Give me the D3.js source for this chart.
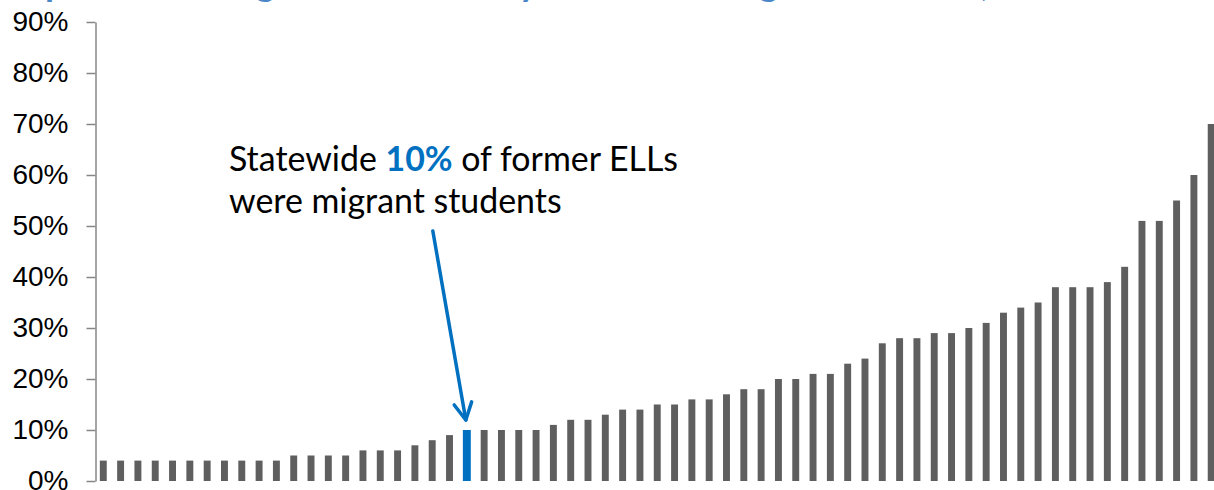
<!DOCTYPE html>
<html>
<head>
<meta charset="utf-8">
<script src="https://cdn.jsdelivr.net/npm/d3@7"></script>
<style>
  body { margin: 0; background: #fff; }
  svg { display: block; }
</style>
</head>
<body>
<div id="chart"></div>
<script>
// share of former ELLs who were migrant students, one bar per district, sorted
var shares = [
  4, 4, 4, 4, 4, 4, 4, 4, 4, 4, 4,
  5, 5, 5, 5, 6, 6, 6, 7, 8, 9,
  10, // statewide
  10, 10, 10, 10, 11, 12, 12, 13, 14, 14, 15, 15, 16, 16, 17, 18, 18,
  20, 20, 21, 21, 23, 24, 27, 28, 28, 29, 29, 30, 31, 33, 34, 35,
  38, 38, 38, 39, 42, 51, 51, 55, 60, 70
];
var statewideIndex = 21;
var yTicks = [0, 10, 20, 30, 40, 50, 60, 70, 80, 90];
var titleText = 'Proportion of migrant students by district among former ELLs, 2012-13';
var noteLine1 = ['Statewide ', '10%', ' of former ELLs'];
var noteLine2 = 'were migrant students';

var width = 1214, height = 490;
var margin = {top: 22, right: -5, bottom: 9, left: 95.5};

var svg = d3.select('#chart').append('svg')
  .attr('width', width).attr('height', height);

var x = d3.scaleBand()
  .domain(d3.range(shares.length))
  .range([margin.left, width - margin.right])
  .paddingInner(0.6)
  .paddingOuter(0.25);

var y = d3.scaleLinear()
  .domain([0, 90])
  .range([height - margin.bottom, margin.top]);

// title, mostly cut off by the top of the frame
var title = svg.append('text')
  .attr('x', 0)
  .attr('y', -4)
  .attr('fill', '#4a86c8')
  .attr('font-family', 'Lato, sans-serif')
  .attr('font-weight', 'bold')
  .attr('font-size', 28)
  .text(titleText);

// stretch it so the descenders land where they do in the original
var tn = title.node();
var iP = titleText.indexOf('p', 1), iC = titleText.indexOf(',');
var span = tn.getStartPositionOfChar(iC).x - tn.getStartPositionOfChar(iP).x;
title.attr('font-size', 28 * 936 / span);
title.attr('x', 45 - tn.getStartPositionOfChar(iP).x);

// bars
svg.append('g').selectAll('rect')
  .data(shares)
  .enter().append('rect')
  .attr('x', function(d, i) { return i === statewideIndex ? x(i) - 0.5 : x(i); })
  .attr('width', function(d, i) { return i === statewideIndex ? x.bandwidth() + 1 : x.bandwidth(); })
  .attr('y', function(d) { return y(d); })
  .attr('height', function(d) { return y(0) - y(d); })
  .attr('fill', function(d, i) { return i === statewideIndex ? '#0070c0' : '#5f5f5f'; });

// y axis
var yAxis = d3.axisLeft(y)
  .tickValues(yTicks)
  .tickFormat(function(d) { return d + '%'; })
  .tickSizeInner(9)
  .tickSizeOuter(0)
  .tickPadding(18);

var gy = svg.append('g')
  .attr('transform', 'translate(' + margin.left + ',0)')
  .call(yAxis);
gy.select('.domain').attr('stroke', '#868686').attr('stroke-width', 1.5);
gy.selectAll('.tick line').attr('stroke', '#868686').attr('stroke-width', 1.5);
gy.selectAll('.tick text')
  .attr('fill', '#000')
  .attr('font-family', '"Liberation Sans", Arial, sans-serif')
  .attr('font-size', 28);

// annotation
var note = svg.append('text')
  .attr('font-family', 'Lato, "Open Sans", sans-serif')
  .attr('font-size', 32)
  .attr('fill', '#000')
  .attr('xml:space', 'preserve');

var l1 = note.append('tspan').attr('x', 229).attr('y', 171);
l1.selectAll('tspan')
  .data(noteLine1)
  .enter().append('tspan')
  .attr('font-weight', function(d, i) { return i === 1 ? 'bold' : null; })
  .attr('fill', function(d, i) { return i === 1 ? '#0070c0' : null; })
  .text(function(d) { return d; });
note.append('tspan').attr('x', 229).attr('y', 213).text(noteLine2);

// scale the note font so line 1 spans the same width as the original
var w1 = l1.node().getComputedTextLength();
note.attr('font-size', 32 * 449 / w1);

// arrow from the note down to the statewide bar
var tipX = x(statewideIndex) + x.bandwidth() / 2 - 1;
var tipY = y(shares[statewideIndex]) - 10;
var startX = tipX - 33, startY = 231;
var ang = Math.atan2(tipY - startY, tipX - startX);
var headLen = 19, headAng = Math.PI / 6.5;

var arrow = svg.append('g')
  .attr('stroke', '#0070c0')
  .attr('stroke-width', 3.5)
  .attr('fill', 'none')
  .attr('stroke-linecap', 'round')
  .attr('stroke-linejoin', 'round');
arrow.append('line')
  .attr('x1', startX).attr('y1', startY)
  .attr('x2', tipX).attr('y2', tipY);
arrow.append('path')
  .attr('d', 'M' + [tipX - headLen * Math.cos(ang - headAng), tipY - headLen * Math.sin(ang - headAng)] +
    ' L' + [tipX, tipY] +
    ' L' + [tipX - headLen * Math.cos(ang + headAng), tipY - headLen * Math.sin(ang + headAng)]);
</script>
</body>
</html>
